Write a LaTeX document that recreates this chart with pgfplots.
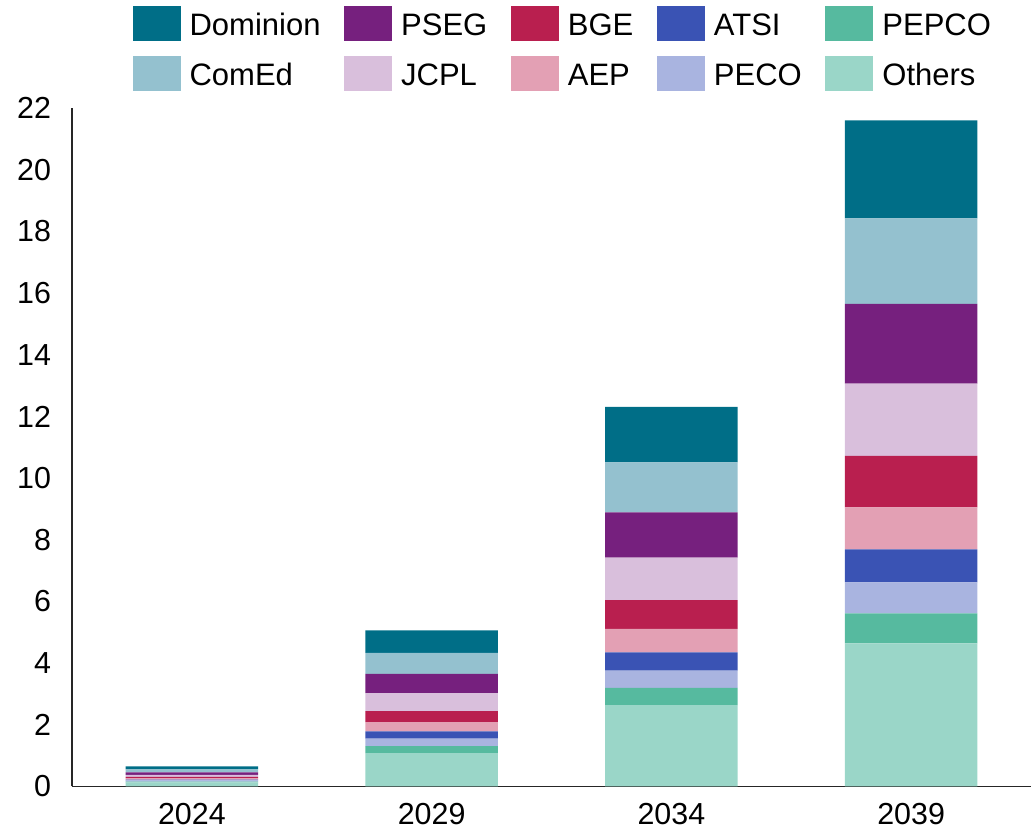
\documentclass[border=0pt]{standalone}
\usepackage{fontspec}
\setmainfont{Liberation Sans}
\usepackage{pgfplots}
\usepackage{pgfplotstable}
\pgfplotsset{compat=1.18}

\definecolor{cDominion}{RGB}{0,110,135}
\definecolor{cComEd}{RGB}{148,193,207}
\definecolor{cPSEG}{RGB}{118,32,126}
\definecolor{cJCPL}{RGB}{217,191,220}
\definecolor{cBGE}{RGB}{185,31,79}
\definecolor{cAEP}{RGB}{227,160,180}
\definecolor{cATSI}{RGB}{58,83,180}
\definecolor{cPECO}{RGB}{169,180,224}
\definecolor{cPEPCO}{RGB}{86,186,159}
\definecolor{cOthers}{RGB}{154,214,200}

\pgfplotstableread{
x Others PEPCO PECO ATSI AEP BGE JCPL PSEG ComEd Dominion
0 0.13 0.03 0.04 0.025 0.045 0.045 0.065 0.08 0.10 0.09
1 1.08 0.23 0.24 0.24 0.30 0.35 0.59 0.62 0.68 0.73
2 2.64 0.56 0.56 0.59 0.76 0.93 1.38 1.47 1.62 1.80
3 4.64 0.97 1.01 1.07 1.36 1.67 2.34 2.59 2.77 3.18
}\data

\pgfplotsset{sq/.style={legend image code/.code={\fill[#1] (0pt,-1.9pt) rectangle (23.5pt,15.1pt);}}}

\begin{document}
\begin{tikzpicture}
\begin{axis}[
  scale only axis,
  width=479.5pt, height=339.25pt,
  ybar stacked,
  bar width=0.553,
  xmin=-0.5, xmax=3.5,
  ymin=0, ymax=22,
  enlargelimits=false,
  xtick={0,1,2,3},
  xticklabels={2024,2029,2034,2039},
  ytick={0,2,...,22},
  axis lines*=left,
  axis line style={line width=0.9pt, black!85},
  major tick length=0pt,
  tick style={draw=none},
  /pgf/number format/assume math mode=true,
  tick label style={font=\fontsize{15.2}{18}\selectfont, inner sep=0pt, outer sep=0pt},
  yticklabel shift=10.5pt,
  xticklabel shift=8.2pt,
  legend columns=5,
  legend cell align=left,
  legend style={draw=none, fill=none, inner sep=0pt, outer sep=0pt,
    at={(axis description cs:0,1)}, anchor=north west,
    xshift=30.3pt, yshift=51pt,
    font=\fontsize{15.5}{18}\selectfont,
    nodes={inner sep=0pt, outer sep=0pt, yshift=5.25pt},
    row sep=7.5pt,
    /tikz/every odd column/.append style={column sep=4.6pt},
    /tikz/every even column/.append style={column sep=11.8pt}},
]
\addlegendimage{sq=cDominion}\addlegendentry{Dominion}
\addlegendimage{sq=cPSEG}\addlegendentry{PSEG}
\addlegendimage{sq=cBGE}\addlegendentry{BGE}
\addlegendimage{sq=cATSI}\addlegendentry{ATSI}
\addlegendimage{sq=cPEPCO}\addlegendentry{PEPCO}
\addlegendimage{sq=cComEd}\addlegendentry{ComEd}
\addlegendimage{sq=cJCPL}\addlegendentry{JCPL}
\addlegendimage{sq=cAEP}\addlegendentry{AEP}
\addlegendimage{sq=cPECO}\addlegendentry{PECO}
\addlegendimage{sq=cOthers}\addlegendentry{Others}

\addplot[fill=cOthers, draw=none] table[x=x, y=Others] {\data};
\addplot[fill=cPEPCO, draw=none] table[x=x, y=PEPCO] {\data};
\addplot[fill=cPECO, draw=none] table[x=x, y=PECO] {\data};
\addplot[fill=cATSI, draw=none] table[x=x, y=ATSI] {\data};
\addplot[fill=cAEP, draw=none] table[x=x, y=AEP] {\data};
\addplot[fill=cBGE, draw=none] table[x=x, y=BGE] {\data};
\addplot[fill=cJCPL, draw=none] table[x=x, y=JCPL] {\data};
\addplot[fill=cPSEG, draw=none] table[x=x, y=PSEG] {\data};
\addplot[fill=cComEd, draw=none] table[x=x, y=ComEd] {\data};
\addplot[fill=cDominion, draw=none] table[x=x, y=Dominion] {\data};

\coordinate (sw) at (rel axis cs:0,0);
\coordinate (ne) at (rel axis cs:1,1);
\end{axis}
\pgfresetboundingbox
\path[use as bounding box] ([xshift=-36pt,yshift=-20.75pt]sw) rectangle ([yshift=54pt]ne);
\end{tikzpicture}
\end{document}
